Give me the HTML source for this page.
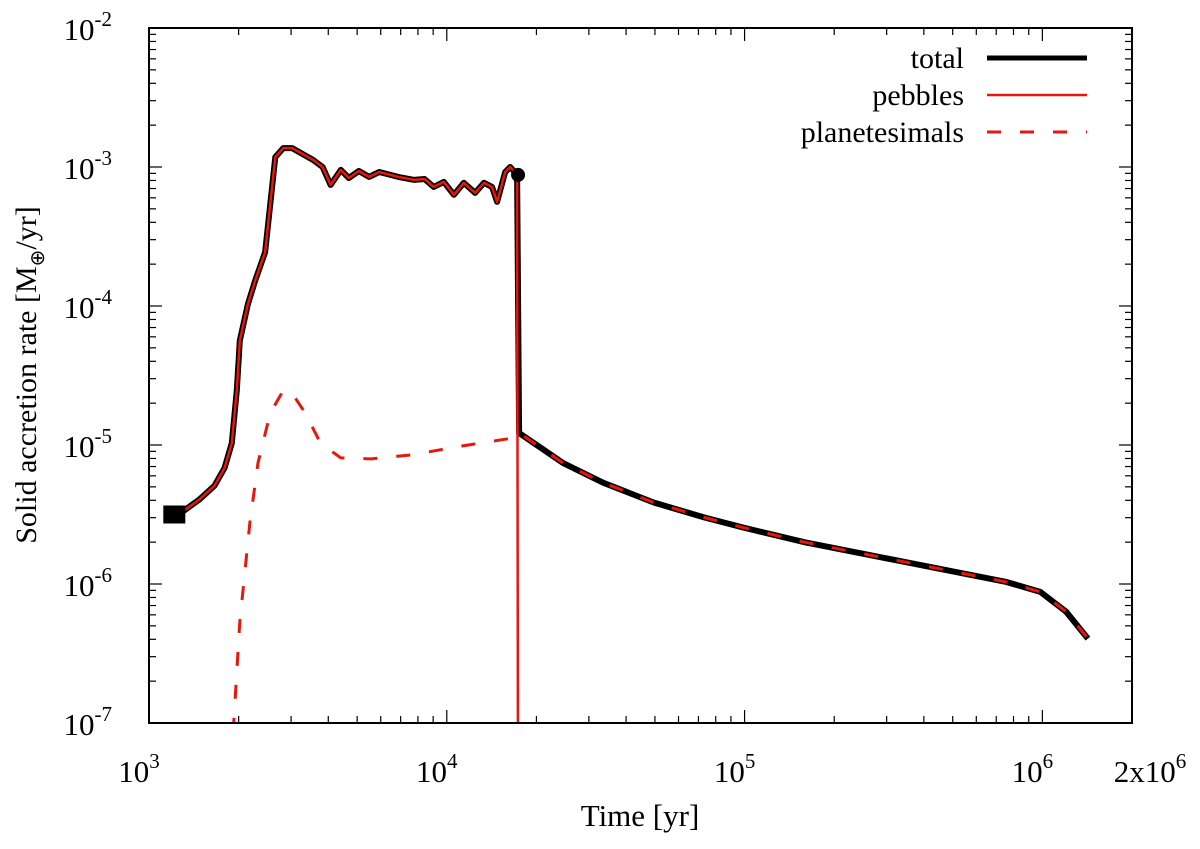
<!DOCTYPE html>
<html><head><meta charset="utf-8"><style>
html,body{margin:0;padding:0;background:#fff;}
svg text{font-family:"Liberation Serif",serif;fill:#000;}
</style></head><body>
<svg id="chart" width="1200" height="844" viewBox="0 0 1200 844" xmlns="http://www.w3.org/2000/svg">
<defs><clipPath id="clip"><rect x="149" y="28" width="983" height="695"/></clipPath></defs>
<g id="grid"></g>
<g id="series" clip-path="url(#clip)"></g>
<rect x="149" y="28" width="983" height="695" fill="none" stroke="#000" stroke-width="2"/>
<g id="ticks"></g>
<g id="markers"></g>
<text x="640" y="826" font-size="31" text-anchor="middle">Time [yr]</text>
<text transform="translate(36,375) rotate(-90)" font-size="30" text-anchor="middle">Solid accretion rate [M<tspan font-size="20" dy="8">⊕</tspan><tspan dy="-8">/yr]</tspan></text>
<g>
<text x="964" y="68" font-size="30" text-anchor="end">total</text>
<line x1="987" y1="58" x2="1087" y2="58" stroke="#000" stroke-width="5"/>
<text x="964" y="105" font-size="30" text-anchor="end">pebbles</text>
<line x1="987" y1="95" x2="1087" y2="95" stroke="#e8160c" stroke-width="2.5"/>
<text x="964" y="142" font-size="30" text-anchor="end">planetesimals</text>
<line x1="987" y1="132" x2="1087" y2="132" stroke="#e8160c" stroke-width="3" stroke-dasharray="14,19"/>
</g>
</svg>
<script>
// data (log10 of time [yr] and log10 of rate [M_earth/yr])
const totalLogT=[3.085,3.118,3.169,3.22,3.254,3.278,3.295,3.305,3.332,3.356,3.39,3.424,3.451,3.481,3.552,3.583,3.61,3.644,3.671,3.705,3.739,3.773,3.837,3.891,3.925,3.956,3.99,4.024,4.057,4.095,4.125,4.152,4.169,4.196,4.213,4.236,4.243,4.39,4.525,4.695,4.864,4.993,5.203,5.542,5.881,5.993,6.08,6.153];
const totalLogR=[-5.5,-5.471,-5.393,-5.293,-5.164,-4.986,-4.607,-4.25,-3.986,-3.821,-3.614,-2.929,-2.864,-2.864,-2.95,-3.0,-3.129,-3.021,-3.079,-3.029,-3.071,-3.036,-3.071,-3.093,-3.086,-3.143,-3.107,-3.2,-3.114,-3.186,-3.114,-3.143,-3.25,-3.036,-3.0,-3.057,-4.914,-5.129,-5.271,-5.414,-5.521,-5.593,-5.7,-5.843,-5.986,-6.057,-6.2,-6.393];
const pebLogT=[3.085,3.118,3.169,3.22,3.254,3.278,3.295,3.305,3.332,3.356,3.39,3.424,3.451,3.481,3.552,3.583,3.61,3.644,3.671,3.705,3.739,3.773,3.837,3.891,3.925,3.956,3.99,4.024,4.057,4.095,4.125,4.152,4.169,4.196,4.213,4.236,4.239];
const pebLogR=[-5.5,-5.471,-5.393,-5.293,-5.164,-4.986,-4.607,-4.25,-3.986,-3.821,-3.614,-2.929,-2.864,-2.864,-2.95,-3.0,-3.129,-3.021,-3.079,-3.029,-3.071,-3.036,-3.071,-3.093,-3.086,-3.143,-3.107,-3.2,-3.114,-3.186,-3.114,-3.143,-3.25,-3.036,-3.0,-3.057,-7.5];
const planLogT=[3.276,3.305,3.339,3.366,3.407,3.451,3.481,3.525,3.576,3.644,3.746,3.881,4.051,4.22,4.243,4.39,4.525,4.695,4.864,4.993,5.203,5.542,5.881,5.993,6.08,6.153];
const planLogR=[-7.3,-6.271,-5.557,-5.129,-4.771,-4.607,-4.629,-4.771,-4.986,-5.093,-5.1,-5.071,-5.007,-4.95,-4.914,-5.129,-5.271,-5.414,-5.521,-5.593,-5.7,-5.843,-5.986,-6.057,-6.2,-6.393];
const xTickExps=[3,4,5,6];
const xTickLabels=["3","4","5","6"];
const yTickExps=[-7,-6,-5,-4,-3,-2];
const startLogT=3.085, startLogR=-5.5;
const switchLogT=4.236, switchLogR=-3.057;

const X0=149,X1=1132,Y0=723,Y1=28;
const xMin=3,xMax=3+Math.log10(2000);
const yMin=-7,yMax=-2;
function sx(l){return X0+(l-xMin)/(xMax-xMin)*(X1-X0);}
function sy(l){return Y0-(l-yMin)/(yMax-yMin)*(Y0-Y1);}
const NS="http://www.w3.org/2000/svg";
function mk(tag,attrs,parent){const e=document.createElementNS(NS,tag);for(const k in attrs)e.setAttribute(k,attrs[k]);parent.appendChild(e);return e;}
const ticks=document.getElementById('ticks');
const series=document.getElementById('series');
const markers=document.getElementById('markers');

for(let d=3;d<=6;d++){for(let m=1;m<=9;m++){const l=d+Math.log10(m);if(l>xMax)break;const x=sx(l);const len=m===1?13:7;
const t1=mk('line',{x1:x,y1:Y0,x2:x,y2:Y0-len,stroke:'#000','stroke-width':1.2},ticks);


const t2=mk('line',{x1:x,y1:Y1,x2:x,y2:Y1+len,stroke:'#000','stroke-width':1.2},ticks);

}}
xTickExps.forEach((e,i)=>{const x=sx(e);const t=mk('text',{x:x-10,y:782,'font-size':31,'text-anchor':'middle'},ticks);


t.innerHTML='10<tspan font-size="21" dy="-14">'+xTickLabels[i]+'</tspan>';});
{const t=mk('text',{x:1150,y:782,'font-size':31,'text-anchor':'middle'},ticks);


t.innerHTML='2x10<tspan font-size="21" dy="-14">6</tspan>';}
for(let d=-7;d<-2;d++){for(let m=1;m<=9;m++){const l=d+Math.log10(m);const y=sy(l);const len=m===1?13:7;
const t1=mk('line',{x1:X0,y1:y,x2:X0+len,y2:y,stroke:'#000','stroke-width':1.2},ticks);


const t2=mk('line',{x1:X1,y1:y,x2:X1-len,y2:y,stroke:'#000','stroke-width':1.2},ticks);

}}
yTickExps.forEach(e=>{const y=sy(e);const t=mk('text',{x:112,y:y+12,'font-size':31,'text-anchor':'end'},ticks);


t.innerHTML='10<tspan font-size="21" dy="-14">'+e+'</tspan>';});

function pts(T,R){return T.map((t,i)=>sx(t).toFixed(1)+','+sy(R[i]).toFixed(1)).join(' ');}
const lt=mk('polyline',{points:pts(totalLogT,totalLogR),fill:'none',stroke:'#000','stroke-width':6,'stroke-linejoin':'round'},series);


const lp=mk('polyline',{points:pts(pebLogT,pebLogR),fill:'none',stroke:'#e8160c','stroke-width':2.5,'stroke-linejoin':'round'},series);


const lpl=mk('polyline',{points:pts(planLogT,planLogR),fill:'none',stroke:'#e8160c','stroke-width':3,'stroke-dasharray':'14,19'},series);


const sq=mk('rect',{x:sx(startLogT)-11,y:sy(startLogR)-9,width:22,height:18,fill:'#000'},markers);


const dot=mk('circle',{cx:sx(switchLogT)+1,cy:sy(switchLogR),r:7,fill:'#000'},markers);


</script>
</body></html>
